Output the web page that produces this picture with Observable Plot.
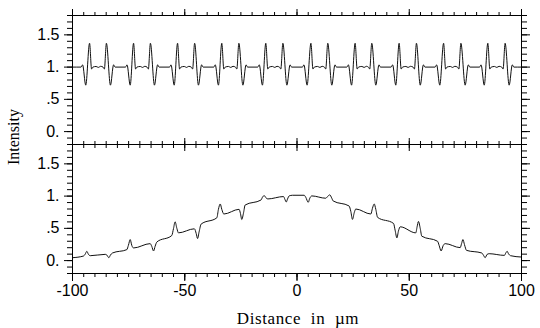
<!DOCTYPE html>
<html><head><meta charset="utf-8">
<script src="https://cdn.jsdelivr.net/npm/d3@7"></script>
<script src="https://cdn.jsdelivr.net/npm/@observablehq/plot@0.6"></script>
<style>
body{margin:0;background:#fff;}
#chart{position:relative;width:540px;height:328px;}
</style>
</head><body><div id="chart"></div>
<script>
// Top panel: intensity vs distance (µm)
const topPanel = [
  [-100,1.0],
  [-96.2,1.0],[-95.5,1.035],[-94.1,0.72],[-92.4,1.37],[-91.5,0.97],[-90.9,1.0],
  [-89.5,1.01],[-88.5,0.995],[-87.5,1.012],
  [-86.4,1.0],[-85.8,0.97],[-84.9,1.37],[-83.1,0.72],[-81.7,1.035],[-81.0,1.0],
  [-76.4,1.0],[-75.7,1.035],[-74.3,0.72],[-72.8,1.37],[-71.9,0.97],[-71.3,1.0],
  [-69.8,1.01],[-68.8,0.995],[-67.8,1.012],
  [-66.8,1.0],[-66.2,0.97],[-65.3,1.37],[-63.5,0.72],[-62.1,1.035],[-61.4,1.0],
  [-56.8,1.0],[-56.1,1.035],[-54.7,0.72],[-53.2,1.37],[-52.3,0.97],[-51.7,1.0],
  [-50.2,1.01],[-49.2,0.995],[-48.2,1.012],
  [-47.1,1.0],[-46.5,0.97],[-45.6,1.37],[-43.9,0.72],[-42.5,1.035],[-41.8,1.0],
  [-37.1,1.0],[-36.4,1.035],[-35.0,0.72],[-33.5,1.37],[-32.6,0.97],[-32.0,1.0],
  [-30.5,1.01],[-29.5,0.995],[-28.5,1.012],
  [-27.4,1.0],[-26.8,0.97],[-25.9,1.37],[-24.1,0.72],[-22.7,1.035],[-22.0,1.0],
  [-17.5,1.0],[-16.8,1.035],[-15.4,0.72],[-13.9,1.37],[-13.0,0.97],[-12.4,1.0],
  [-10.9,1.01],[-9.9,0.995],[-8.9,1.012],
  [-7.8,1.0],[-7.2,0.97],[-6.3,1.37],[-4.5,0.72],[-3.1,1.035],[-2.4,1.0],
  [2.4,1.0],[3.1,1.035],[4.5,0.72],[6.2,1.37],[7.1,0.97],[7.7,1.0],
  [9.2,1.01],[10.2,0.995],[11.2,1.012],
  [12.2,1.0],[12.8,0.97],[13.7,1.37],[15.5,0.72],[16.9,1.035],[17.6,1.0],
  [22.2,1.0],[22.9,1.035],[24.3,0.72],[25.9,1.37],[26.8,0.97],[27.4,1.0],
  [28.9,1.01],[29.9,0.995],[30.9,1.012],
  [31.8,1.0],[32.4,0.97],[33.3,1.37],[35.1,0.72],[36.5,1.035],[37.2,1.0],
  [41.9,1.0],[42.6,1.035],[44.0,0.72],[45.5,1.37],[46.4,0.97],[47.0,1.0],
  [48.5,1.01],[49.5,0.995],[50.5,1.012],
  [51.7,1.0],[52.3,0.97],[53.2,1.37],[54.9,0.72],[56.3,1.035],[57.0,1.0],
  [61.5,1.0],[62.2,1.035],[63.6,0.72],[65.3,1.37],[66.2,0.97],[66.8,1.0],
  [68.3,1.01],[69.3,0.995],[70.3,1.012],
  [71.5,1.0],[72.1,0.97],[73.0,1.37],[74.9,0.72],[76.3,1.035],[77.0,1.0],
  [81.3,1.0],[82.0,1.035],[83.4,0.72],[85.0,1.37],[85.9,0.97],[86.5,1.0],
  [88.0,1.01],[89.0,0.995],[90.0,1.012],
  [91.2,1.0],[91.8,0.97],[92.7,1.37],[94.5,0.72],[95.9,1.035],[96.6,1.0],
  [100,1.0]
];

// Bottom panel: intensity vs distance (µm)
const bottomPanel = [
  [-100,0.045],[-95.1,0.071],[-94.4,0.097],[-93.6,0.144],[-92.9,0.097],[-92.1,0.076],
  [-85.4,0.097],[-84.7,0.086],[-83.8,0.045],[-83.1,0.086],[-82.2,0.118],
  [-75.8,0.17],[-75.1,0.237],[-74.3,0.326],[-73.6,0.237],[-72.8,0.196],
  [-65.4,0.263],[-64.7,0.222],[-63.9,0.149],[-63.2,0.222],[-62.4,0.289],
  [-55.8,0.388],[-55.0,0.498],[-54.3,0.602],[-53.5,0.498],[-52.8,0.43],
  [-45.7,0.493],[-44.9,0.42],[-44.3,0.342],[-43.6,0.446],[-42.7,0.566],
  [-35.7,0.664],[-35.0,0.795],[-34.2,0.878],[-33.5,0.795],[-32.6,0.722],
  [-25.8,0.795],[-25.2,0.732],[-24.6,0.638],[-23.8,0.743],[-23.1,0.862],
  [-16.0,0.94],[-15.4,0.982],[-14.6,1.008],[-13.9,0.977],[-13.0,0.956],
  [-6.0,0.993],[-5.4,0.951],[-4.8,0.909],[-4.2,0.956],[-3.5,1.003],
  [-2.0,1.013],[3.2,1.013],[3.9,0.982],[5.0,0.904],[5.7,0.967],[6.6,1.003],
  [12.8,0.967],[13.6,0.993],[14.6,1.019],[15.5,0.967],[16.1,0.925],
  [23.2,0.847],[24.0,0.758],[24.7,0.638],[25.5,0.743],[26.2,0.8],
  [32.9,0.722],[33.6,0.81],[34.4,0.878],[35.1,0.795],[35.9,0.67],
  [43.0,0.576],[43.7,0.472],[44.5,0.352],[45.2,0.461],[46.0,0.524],
  [52.9,0.43],[53.5,0.524],[54.1,0.607],[54.9,0.498],[55.6,0.378],
  [62.6,0.3],[63.3,0.237],[64.2,0.149],[65.1,0.232],[66.0,0.263],
  [72.7,0.201],[73.3,0.263],[73.9,0.326],[74.6,0.248],[75.5,0.159],
  [82.3,0.118],[83.1,0.081],[83.8,0.045],[84.7,0.097],[85.6,0.107],
  [92.4,0.081],[93.0,0.118],[93.6,0.144],[94.2,0.107],[95.1,0.076],
  [100,0.055]
];

const xMajorTicks = [-100, -50, 0, 50, 100];
const xTickLabels = ["-100", "-50", "0", "50", "100"];
const xMinorTicks = d3.range(-100, 101, 5);
const yMajorTicks = [0, 0.5, 1, 1.5];
const yTickLabels = ["0.", ".5", "1.", "1.5"];
const yMinorTicks = d3.range(-2, 19).map(i => i / 10);
const panels = ["top", "bottom"];
const yLabel = "Intensity";
const xLabel = "Distance  in  \u00b5m";

const rows = [
  ...topPanel.map(([x, y]) => ({panel: "top", x, y})),
  ...bottomPanel.map(([x, y]) => ({panel: "bottom", x, y}))
];

const blank = () => "";
const common = {label: null, stroke: "#000", strokeWidth: 1};

const svg = Plot.plot({
  width: 540,
  height: 328,
  marginLeft: 72,
  marginRight: 19,
  marginTop: 15,
  marginBottom: 55,
  style: {fontFamily: "'Liberation Sans', Arial, sans-serif", fontSize: "16px", color: "#000", background: "#fff"},
  x: {domain: [-100, 100]},
  y: {domain: [-0.2, 1.8]},
  fy: {domain: panels, padding: 0, axis: null},
  marks: [
    Plot.line(rows, {x: "x", y: "y", fy: "panel", stroke: "#111", strokeWidth: 1, curve: "monotone-x"}),
    Plot.frame({stroke: "#000", strokeWidth: 1}),
    Plot.axisX(xMinorTicks, {...common, anchor: "top", tickSize: 4, tickFormat: blank, facetAnchor: null}),
    Plot.axisX(xMinorTicks, {...common, anchor: "bottom", tickSize: 4, tickFormat: blank, facetAnchor: null}),
    Plot.axisX(xMajorTicks, {...common, anchor: "top", tickSize: 7, tickFormat: blank, facetAnchor: null}),
    Plot.axisX(xMajorTicks, {...common, anchor: "bottom", tickSize: 7, tickFormat: blank, facetAnchor: null}),
    Plot.axisX(xMajorTicks, {...common, anchor: "bottom", tickSize: 8, tickPadding: 3,
      tickFormat: d => xTickLabels[xMajorTicks.indexOf(d)]}),
    Plot.axisY(yMinorTicks, {...common, anchor: "left", tickSize: 5, tickFormat: blank}),
    Plot.axisY(yMinorTicks, {...common, anchor: "right", tickSize: 5, tickFormat: blank}),
    Plot.axisY(yMajorTicks, {...common, anchor: "right", tickSize: 8, tickFormat: blank}),
    Plot.axisY(yMajorTicks, {...common, anchor: "left", tickSize: 8, tickPadding: 5,
      tickFormat: d => yTickLabels[yMajorTicks.findIndex(v => Math.abs(v - d) < 1e-9)]})
  ]
});

const sel = d3.select(svg);
sel.append("text")
  .attr("transform", "translate(19,137) rotate(-90)")
  .attr("text-anchor", "middle")
  .style("font-family", "'Liberation Serif', 'Times New Roman', serif")
  .style("font-size", "16px")
  .attr("fill", "#000")
  .text(yLabel);
sel.append("text")
  .attr("x", 298)
  .attr("y", 324)
  .attr("text-anchor", "middle")
  .style("font-family", "'Liberation Serif', 'Times New Roman', serif")
  .style("font-size", "17px")
  .style("letter-spacing", "0.6px")
  .style("white-space", "pre")
  .attr("fill", "#000")
  .text(xLabel);

document.getElementById("chart").appendChild(svg);
</script>
</body></html>
